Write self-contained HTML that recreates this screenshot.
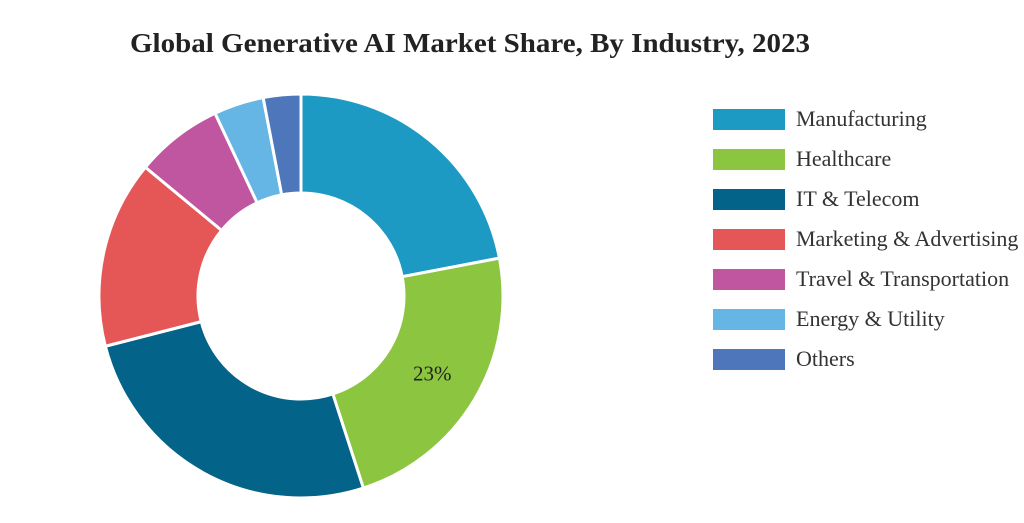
<!DOCTYPE html>
<html><head><meta charset="utf-8"><style>
body{margin:0;background:#fff;width:1024px;height:518px;overflow:hidden;font-family:"Liberation Serif",serif;}
</style></head><body>
<svg width="1024" height="518">
<text x="470" y="52" text-anchor="middle" font-size="27" font-weight="bold" fill="#222" textLength="680" lengthAdjust="spacingAndGlyphs">Global Generative AI Market Share, By Industry, 2023</text>
<g id="pie"></g>
<g id="legend"></g>
</svg>
<script>
const categories=["Manufacturing","Healthcare","IT & Telecom","Marketing & Advertising","Travel & Transportation","Energy & Utility","Others"];
const values=[22,23,26,15,7,4,3];
const colors=["#1c9ac3","#8cc540","#046388","#e55757","#bf569f","#65b5e5","#4e76bb"];
const shownLabels=["","23%","","","","",""];
const ns="http://www.w3.org/2000/svg";
const cx=301,cy=296,R=202,r=103;
const pie=document.getElementById('pie'),leg=document.getElementById('legend');
const total=values.reduce((a,b)=>a+b,0);
function pt(a,rad){return [cx+rad*Math.sin(a),cy-rad*Math.cos(a)];}
let acc=0;
values.forEach((v,i)=>{
  const a0=acc/total*2*Math.PI; acc+=v; const a1=acc/total*2*Math.PI;
  const lg=(a1-a0)>Math.PI?1:0;
  const p0=pt(a0,R),p1=pt(a1,R),q1=pt(a1,r),q0=pt(a0,r);
  const p=document.createElementNS(ns,'path');
  p.setAttribute('d',`M${p0[0]},${p0[1]}A${R},${R} 0 ${lg} 1 ${p1[0]},${p1[1]}L${q1[0]},${q1[1]}A${r},${r} 0 ${lg} 0 ${q0[0]},${q0[1]}Z`);
  p.setAttribute('fill',colors[i]);p.setAttribute('stroke','#fff');p.setAttribute('stroke-width','3');
  
  
  pie.appendChild(p);
  if(shownLabels[i]){
    const m=pt((a0+a1)/2,(R+r)/2);
    const t=document.createElementNS(ns,'text');
    t.setAttribute('x',m[0]);t.setAttribute('y',m[1]+7);t.setAttribute('text-anchor','middle');
    t.setAttribute('font-size','21');t.setAttribute('fill','#222');t.textContent=shownLabels[i];
    
    
    pie.appendChild(t);
  }
  const g=document.createElementNS(ns,'g');
  
  
  const y=109+i*40;
  const s=document.createElementNS(ns,'rect');
  s.setAttribute('x',713);s.setAttribute('y',y);s.setAttribute('width',72);s.setAttribute('height',21);s.setAttribute('fill',colors[i]);
  
  
  const t=document.createElementNS(ns,'text');
  t.setAttribute('x',796);t.setAttribute('y',y+17);t.setAttribute('font-size','22');t.setAttribute('fill','#333');t.textContent=categories[i];
  
  
  g.appendChild(s);g.appendChild(t);leg.appendChild(g);
});
</script>
</body></html>
